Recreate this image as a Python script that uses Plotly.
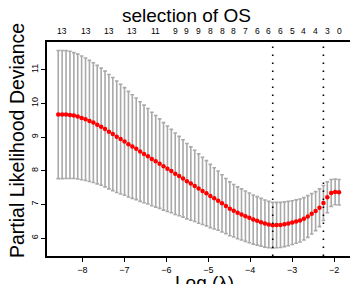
import plotly.graph_objects as go

log_lambda = [-8.578, -8.485, -8.392, -8.299, -8.206, -8.113, -8.020, -7.927, -7.834, -7.741,
              -7.648, -7.555, -7.462, -7.369, -7.276, -7.183, -7.090, -6.997, -6.904, -6.811,
              -6.718, -6.625, -6.532, -6.439, -6.346, -6.253, -6.160, -6.067, -5.974, -5.881,
              -5.788, -5.695, -5.602, -5.509, -5.416, -5.323, -5.230, -5.137, -5.044, -4.951,
              -4.858, -4.765, -4.672, -4.579, -4.486, -4.393, -4.300, -4.207, -4.114, -4.021,
              -3.928, -3.835, -3.742, -3.649, -3.556, -3.463, -3.370, -3.277, -3.184, -3.091,
              -2.998, -2.905, -2.812, -2.719, -2.626, -2.533, -2.440, -2.347, -2.254, -2.161,
              -2.068, -1.975, -1.882]

cvm = [9.67, 9.67, 9.67, 9.66, 9.64, 9.61, 9.57, 9.53, 9.48, 9.43,
       9.37, 9.31, 9.24, 9.16, 9.09, 9.01, 8.94, 8.87, 8.79, 8.72,
       8.65, 8.57, 8.50, 8.43, 8.35, 8.28, 8.21, 8.13, 8.06, 7.99,
       7.91, 7.84, 7.77, 7.69, 7.62, 7.55, 7.47, 7.40, 7.33, 7.25,
       7.18, 7.11, 7.03, 6.95, 6.87, 6.81, 6.75, 6.70, 6.65, 6.60,
       6.55, 6.51, 6.47, 6.43, 6.40, 6.38, 6.385, 6.39, 6.41, 6.43,
       6.46, 6.49, 6.52, 6.57, 6.64, 6.72, 6.80, 6.90, 7.04, 7.21,
       7.34, 7.37, 7.36]

cvsd = [1.905, 1.905, 1.90, 1.89, 1.87, 1.855, 1.84, 1.82, 1.80, 1.78,
        1.76, 1.74, 1.72, 1.70, 1.68, 1.655, 1.63, 1.60, 1.57, 1.54,
        1.51, 1.48, 1.45, 1.42, 1.39, 1.36, 1.33, 1.30, 1.27, 1.24,
        1.21, 1.18, 1.15, 1.12, 1.09, 1.06, 1.03, 1.00, 0.97, 0.94,
        0.91, 0.88, 0.85, 0.82, 0.80, 0.78, 0.77, 0.76, 0.75, 0.74,
        0.73, 0.72, 0.71, 0.70, 0.69, 0.68, 0.675, 0.67, 0.665, 0.66,
        0.65, 0.645, 0.64, 0.63, 0.62, 0.60, 0.58, 0.56, 0.52, 0.46,
        0.40, 0.38, 0.38]

# number of nonzero coefficients shown on top axis (index into lambda grid, label)
nzero_idx = [1, 7, 13, 19, 25, 30, 33, 36, 39, 42, 45, 48, 51, 54, 57, 60, 63, 66, 69, 72]
nzero_lab = ["13", "13", "13", "13", "11", "9", "9", "9", "8", "8", "8", "7",
             "6", "6", "6", "5", "4", "4", "3", "0"]

x_ticks = [-8, -7, -6, -5, -4, -3, -2]
y_ticks = [6, 7, 8, 9, 10, 11]

# lambda.min and lambda.1se
i_min = min(range(len(cvm)), key=lambda i: cvm[i])
thr = cvm[i_min] + cvsd[i_min]
i_1se = max(i for i in range(len(cvm)) if cvm[i] <= thr)

FONT = "Liberation Sans, Arial, Helvetica, sans-serif"

fig = go.Figure()
fig.add_trace(go.Scatter(
    x=log_lambda, y=cvm, mode="markers",
    marker=dict(color="red", size=4.5, line=dict(width=0)),
    error_y=dict(type="data", array=cvsd, symmetric=True,
                 color="#A9A9A9", thickness=1.6, width=1.8),
    showlegend=False, hoverinfo="skip"))

for i in (i_min, i_1se):
    fig.add_shape(type="line", xref="x", yref="paper",
                  x0=log_lambda[i], x1=log_lambda[i], y0=0, y1=1,
                  line=dict(color="black", width=1.6, dash="1.5px,6.5px"))

annotations = []
for idx, lab in zip(nzero_idx, nzero_lab):
    annotations.append(dict(x=log_lambda[idx], y=1, xref="x", yref="paper",
                            text=lab, showarrow=False, yanchor="middle",
                            yshift=11, font=dict(size=8.5, color="black", family=FONT)))
annotations.append(dict(x=0.459, y=1, xref="paper", yref="paper",
                        text="selection of OS", showarrow=False,
                        yanchor="middle", yshift=27,
                        font=dict(size=19, color="black", family=FONT)))
annotations.append(dict(x=0.52, y=0, xref="paper", yref="paper",
                        text="Log (\u03bb)", showarrow=False,
                        yanchor="top", yshift=-14,
                        font=dict(size=19, color="black", family=FONT)))
annotations.append(dict(x=-0.097, y=0.54, xref="paper", yref="paper",
                        text="Partial Likelihood Deviance", showarrow=False,
                        textangle=-90, xanchor="center", yanchor="middle",
                        font=dict(size=19.5, color="black", family=FONT)))

fig.update_layout(
    width=350, height=284,
    margin=dict(l=47, r=0, t=42, b=28, autoexpand=False),
    paper_bgcolor="white", plot_bgcolor="white",
    font=dict(family=FONT, color="black"),
    annotations=annotations,
    xaxis=dict(range=[-8.846, -1.62], tickvals=x_ticks, automargin=False,
               ticktext=[f"\u2212{abs(v)}" for v in x_ticks],
               showgrid=False, zeroline=False, showline=True, linecolor="black",
               linewidth=1.6, mirror=True, ticks="outside", ticklen=4,
               tickcolor="black", tickwidth=1, tickfont=dict(size=9)),
    yaxis=dict(range=[5.466, 11.826], tickvals=y_ticks, automargin=False,
               showgrid=False, zeroline=False, showline=True, linecolor="black",
               linewidth=1.6, mirror=True, ticks="outside", ticklen=4,
               tickcolor="black", tickwidth=1, tickangle=-90,
               tickfont=dict(size=9)),
)

fig.write_html("out.html", config={"displayModeBar": False},
               post_script="document.body.style.margin='0px';document.body.style.overflow='hidden';")
